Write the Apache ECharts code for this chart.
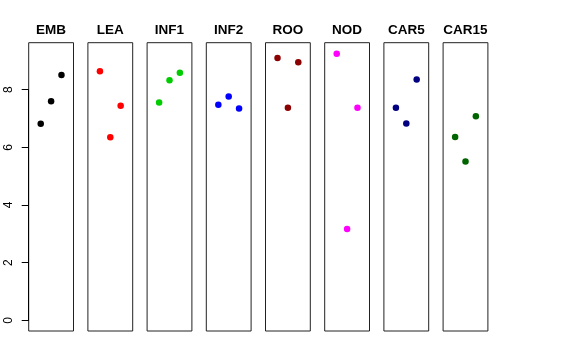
<!DOCTYPE html>
<html><head><meta charset="utf-8">
<script src="https://cdn.jsdelivr.net/npm/echarts@6/dist/echarts.min.js"></script>
<style>html,body{margin:0;padding:0;background:#fff}#c{width:576px;height:360px}</style>
</head><body><div id="c"></div>
<script>
const categories = ["EMB","LEA","INF1","INF2","ROO","NOD","CAR5","CAR15"];
const colors = ["#000000","#FF0000","#00CD00","#0000FF","#8B0000","#FF00FF","#000080","#006400"];
const xPositions = [1,2,3];
const EMB = [6.82,7.60,8.51];
const LEA = [8.64,6.35,7.44];
const INF1 = [7.56,8.33,8.59];
const INF2 = [7.48,7.76,7.35];
const ROO = [9.10,7.37,8.95];
const NOD = [9.25,3.17,7.37];
const CAR5 = [7.37,6.83,8.35];
const CAR15 = [6.36,5.51,7.08];
const seriesValues = [EMB,LEA,INF1,INF2,ROO,NOD,CAR5,CAR15];
const yTicks = [0,2,4,6,8];

const chart = echarts.init(document.getElementById('c'));
const left0 = 28.7, step = 59.2, pw = 44.8, ptop = 42.7, ph = 288.3;
const yMin = -0.37, yMax = 9.63;
const grids = [], xAxes = [], yAxes = [], series = [], graphics = [];
categories.forEach((cat, i) => {
  const L = left0 + step * i;
  grids.push({left: L, top: ptop, width: pw, height: ph, show: true, borderColor: '#222', borderWidth: 1, backgroundColor: 'transparent'});
  xAxes.push({type: 'value', gridIndex: i, min: -0.16, max: 4.16, show: false});
  yAxes.push({type: 'value', gridIndex: i, min: yMin, max: yMax, show: false});
  series.push({type: 'scatter', xAxisIndex: i, yAxisIndex: i, symbol: 'circle', symbolSize: 6.5,
    itemStyle: {color: colors[i], opacity: 1}, data: xPositions.map((x, k) => [x, seriesValues[i][k]]), silent: true});
  graphics.push({type: 'text', x: L + pw / 2, y: 30, style: {text: cat, fontFamily: 'Liberation Sans, Arial, sans-serif', fontWeight: 'bold', fontSize: 13.5, fill: '#000', textAlign: 'center', textVerticalAlign: 'middle'}});
});
const px0 = ptop + ph * (yMax - 0) / (yMax - yMin);
const px8 = ptop + ph * (yMax - 8) / (yMax - yMin);
grids.push({left: left0, top: px8, width: pw, height: px0 - px8, show: false});
xAxes.push({type: 'value', gridIndex: 8, min: 0, max: 1, show: false});
yAxes.push({type: 'value', gridIndex: 8, min: yTicks[0], max: yTicks[yTicks.length - 1], interval: 2, position: 'left',
  axisLine: {show: true, lineStyle: {color: '#000', width: 1}},
  axisTick: {show: true, length: 7, lineStyle: {color: '#000'}},
  splitLine: {show: false},
  axisLabel: {show: true, rotate: 90, margin: 14, fontSize: 12, color: '#000', fontFamily: 'Liberation Sans, Arial, sans-serif',
    formatter: v => yTicks.includes(v) ? String(v) : ''}
});
chart.setOption({animation: false, grid: grids, xAxis: xAxes, yAxis: yAxes, series: series, graphic: graphics});
</script></body></html>
